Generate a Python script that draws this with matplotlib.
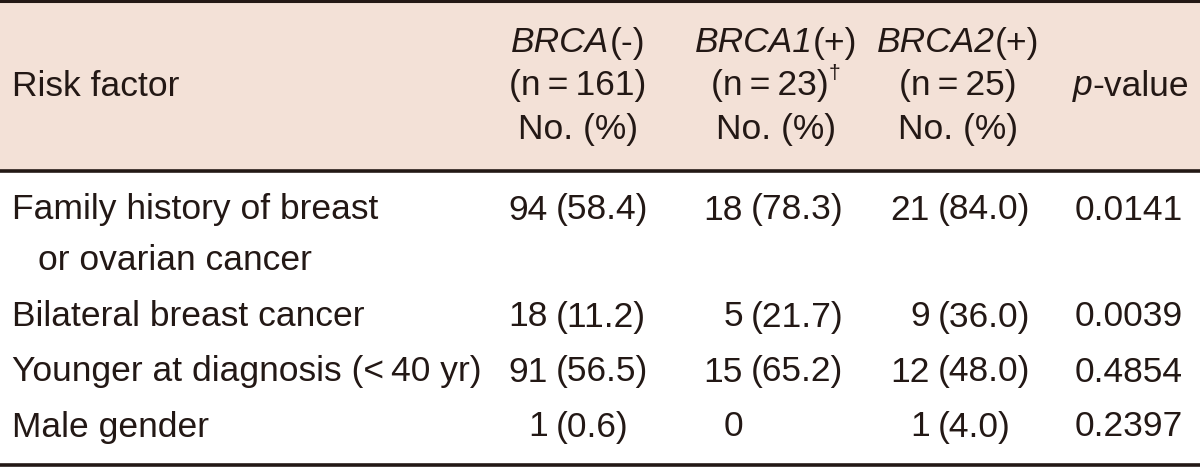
import matplotlib
matplotlib.use("Agg")
import matplotlib.pyplot as plt
from matplotlib import font_manager

# ---------------- data ----------------
risk_factors = ["Family history of breast\nor ovarian cancer",
                "Bilateral breast cancer",
                "Younger at diagnosis (<\u200940 yr)",
                "Male gender"]
group_italic = ["BRCA", "BRCA1", "BRCA2"]
group_sign = ["(-)", "(+)", "(+)"]
group_n = ["(n\u2009=\u2009161)", "(n\u2009=\u200923)", "(n\u2009=\u200925)"]
group_note = ["", "\u2020", ""]
brca_neg_counts = ["94", "18", "91", "1"]
brca_neg_pcts = ["(58.4)", "(11.2)", "(56.5)", "(0.6)"]
brca1_counts = ["18", "5", "15", "0"]
brca1_pcts = ["(78.3)", "(21.7)", "(65.2)", ""]
brca2_counts = ["21", "9", "12", "1"]
brca2_pcts = ["(84.0)", "(36.0)", "(48.0)", "(4.0)"]
p_values = ["0.0141", "0.0039", "0.4854", "0.2397"]

# ---------------- style ----------------
available = {f.name for f in font_manager.fontManager.ttflist}
if "Liberation Sans Narrow" in available:
    FONT = ["Liberation Sans Narrow", "Liberation Sans", "DejaVu Sans"]
    FS = 28.5
else:
    FONT = ["Liberation Sans", "DejaVu Sans"]
    FS = 25.5
plt.rcParams["font.family"] = FONT
TXT = "#231815"
BG = "#F3E1D7"

fig = plt.figure(figsize=(12, 4.67), dpi=100)
ax = fig.add_axes([0, 0, 1, 1])
ax.set_xlim(0, 1200)
ax.set_ylim(467, 0)
ax.axis("off")
renderer = fig.canvas.get_renderer()

# header background and rules
ax.axhspan(0, 170, color=BG, zorder=0)
ax.axhline(1.2, color=TXT, lw=2.2)
ax.axhline(170.5, color=TXT, lw=2.6)
ax.axhline(465, color=TXT, lw=2.6)

kw = dict(fontsize=FS, color=TXT, va="center")


def width_px(t):
    bb = t.get_window_extent(renderer=renderer)
    return bb.width


def segments(x, y, segs, align="center"):
    """segs: list of (text, style, superscript)"""
    objs = []
    cur = x
    for s, style, sup in segs:
        if not s:
            continue
        if sup:
            t = ax.text(cur, y - 12, s, ha="left", fontsize=FS * 0.6,
                        color=TXT, va="center", style=style)
        else:
            t = ax.text(cur, y, s, ha="left", style=style, **kw)
        w = width_px(t)
        cur += w
        objs.append(t)
    total = cur - x
    if align == "center":
        for t in objs:
            px, py = t.get_position()
            t.set_x(px - total / 2)


# header
ax.text(12, 86, "Risk factor", ha="left", **kw)
centers = [578, 776, 958]
for cx, gi, gs, n, note in zip(centers, group_italic, group_sign, group_n, group_note):
    segments(cx, 43, [(gi, "italic", False), (gs, "normal", False)])
    segments(cx, 86, [(n, "normal", False), (note, "normal", True)])
    ax.text(cx, 129, "No. (%)", ha="center", **kw)
segments(1073, 86, [("p", "italic", False), ("-value", "normal", False)], align="left")

# body
row_y = [210, 317, 372, 427]
count_x = [548, 743, 930]
gap = 8
for i, y in enumerate(row_y):
    lines = risk_factors[i].split("\n")
    ax.text(12, y, lines[0], ha="left", **kw)
    if len(lines) > 1:
        ax.text(38, y + 50, lines[1], ha="left", **kw)
    for cx, counts, pcts in zip(count_x,
                                [brca_neg_counts, brca1_counts, brca2_counts],
                                [brca_neg_pcts, brca1_pcts, brca2_pcts]):
        ax.text(cx, y, counts[i], ha="right", **kw)
        if pcts[i]:
            ax.text(cx + gap, y, pcts[i], ha="left", **kw)
    ax.text(1075, y, p_values[i], ha="left", **kw)

fig.savefig("out.png", dpi=100, facecolor="white")
